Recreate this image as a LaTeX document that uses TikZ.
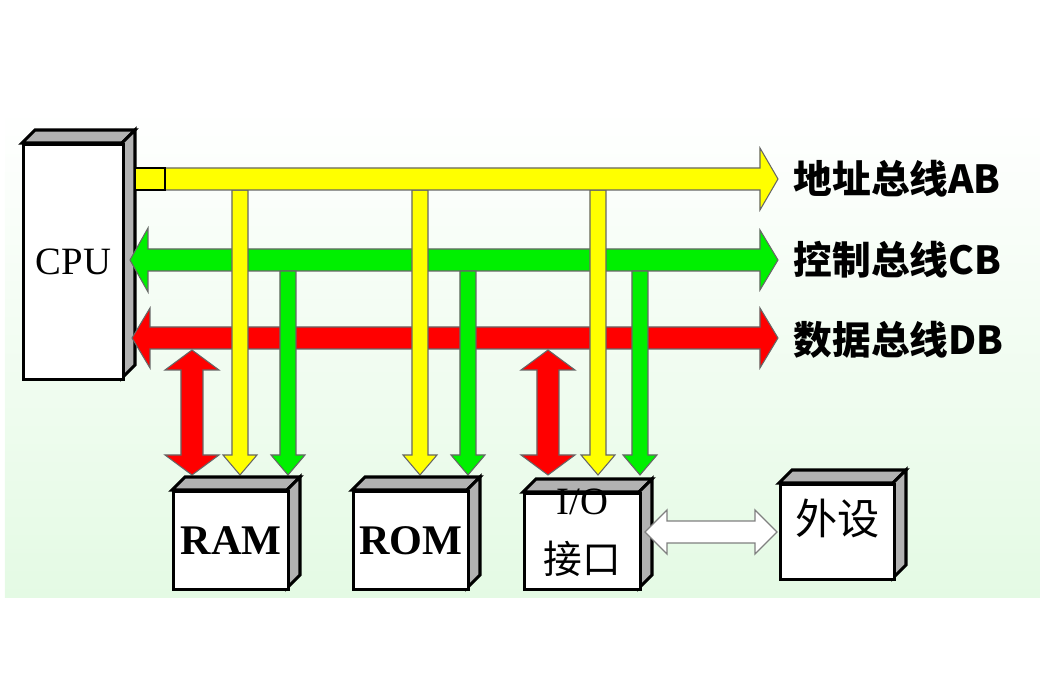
\documentclass[tikz,border=0pt]{standalone}
\usepackage{fontspec}
\setmainfont{Liberation Serif}
\newfontfamily\cjk{Noto Sans CJK SC}
\usetikzlibrary{positioning}
\definecolor{busyellow}{RGB}{255,255,0}
\definecolor{busgreen}{RGB}{0,240,0}
\definecolor{busred}{RGB}{255,0,0}
\definecolor{panelgreen}{RGB}{228,250,228}
\tikzset{
  bus/.style={draw=black!60, line width=0.3pt},
  face/.style={draw=black, line width=0.9pt, fill=white},
  sideface/.style={draw=black, line width=0.9pt, fill=black!30},
  lbl/.style={font=\cjk\bfseries\fontsize{11}{11}\selectfont, anchor=west, inner sep=0pt},
}
% box with 3d top and side: #1 name, #2 x, #3 y, #4 w, #5 h
\newcommand\cube[5]{%
  \filldraw[sideface] (#2,#3) -- ++(13,-13) -- ++(#4,0) -- ++(-13,13) -- cycle;
  \filldraw[sideface] (#2+#4,#3) -- ++(13,-13) -- ++(0,#5) -- ++(-13,13) -- cycle;
  \node[face, minimum width=#4*0.01cm, minimum height=#5*0.01cm, anchor=north west, inner sep=0pt] (#1) at (#2,#3) {};
}
\begin{document}
\begin{tikzpicture}[x=0.01cm, y=-0.01cm]
\useasboundingbox (0,0) rectangle (1050,700);
\shade[top color=white, bottom color=panelgreen] (5,108) rectangle (1040,598);
% CPU
\cube{cpu}{22}{143}{100}{235}
\node[font=\fontsize{11}{11}\selectfont] at (cpu.center) {CPU};
% data bus
\filldraw[bus, fill=busred] (132,338) -- (150,308) -- (150,327) -- (760,327) -- (760,308) -- (778,338)
  -- (760,368) -- (760,349) -- (150,349) -- (150,368) -- cycle;
% control bus
\filldraw[bus, fill=busgreen] (130,260) -- (148,228) -- (148,249) -- (760,249) -- (760,230) -- (778,260)
  -- (760,290) -- (760,271) -- (148,271) -- (148,292) -- cycle;
% control lines down
\foreach \x in {288,468,640}
  \filldraw[bus, fill=busgreen] (\x-8,271) -- (\x+8,271) -- (\x+8,455) -- (\x+17,455) -- (\x,475)
    -- (\x-17,455) -- (\x-8,455) -- cycle;
% address lines down
\foreach \x in {240,420,598}
  \filldraw[bus, fill=busyellow] (\x-8,190) -- (\x+8,190) -- (\x+8,455) -- (\x+17,455) -- (\x,475)
    -- (\x-17,455) -- (\x-8,455) -- cycle;
% address bus
\filldraw[bus, fill=busyellow] (135,168) -- (760,168) -- (760,148) -- (778,179) -- (760,210)
  -- (760,190) -- (135,190) -- cycle;
\filldraw[bus, draw=black, fill=busyellow] (135,168) rectangle (165,190);
% data lines
\foreach \x in {192,548}
  \filldraw[bus, fill=busred] (\x,350) -- (\x+27,370) -- (\x+11,370) -- (\x+11,455) -- (\x+27,455)
    -- (\x,475) -- (\x-27,455) -- (\x-11,455) -- (\x-11,370) -- (\x-27,370) -- cycle;
% bus labels
\node[lbl] (ab) at (793,179) {地址总线AB};
\node[lbl] (cb) at (793,260) {控制总线CB};
\node[lbl] (db) at (793,340) {数据总线DB};
% memories and interface
\cube{ram}{172}{490}{115}{98}
\node[font=\bfseries\fontsize{12}{12}\selectfont] at (ram.center) {RAM};
\cube{rom}{352}{490}{115}{98}
\node[font=\bfseries\fontsize{12}{12}\selectfont] at (rom.center) {ROM};
\cube{io}{523}{492}{116}{96}
\node[font=\fontsize{11}{11}\selectfont, anchor=north, inner sep=0pt] at ([yshift=1pt]io.north) {I/O};
\node[font=\cjk\fontsize{11}{11}\selectfont, anchor=south, inner sep=0pt] at ([yshift=4pt]io.south) {接口};
\cube{dev}{779}{483}{114}{95}
\node[font=\cjk\fontsize{12}{12}\selectfont] at ([yshift=-0.35cm]dev.north) {外设};
% interface to device
\filldraw[draw=black!50, line width=0.4pt, fill=white] (645,532) -- (667,510) -- (667,521) -- (755,521)
  -- (755,510) -- (777,532) -- (755,554) -- (755,543) -- (667,543) -- (667,554) -- cycle;
\end{tikzpicture}
\end{document}
